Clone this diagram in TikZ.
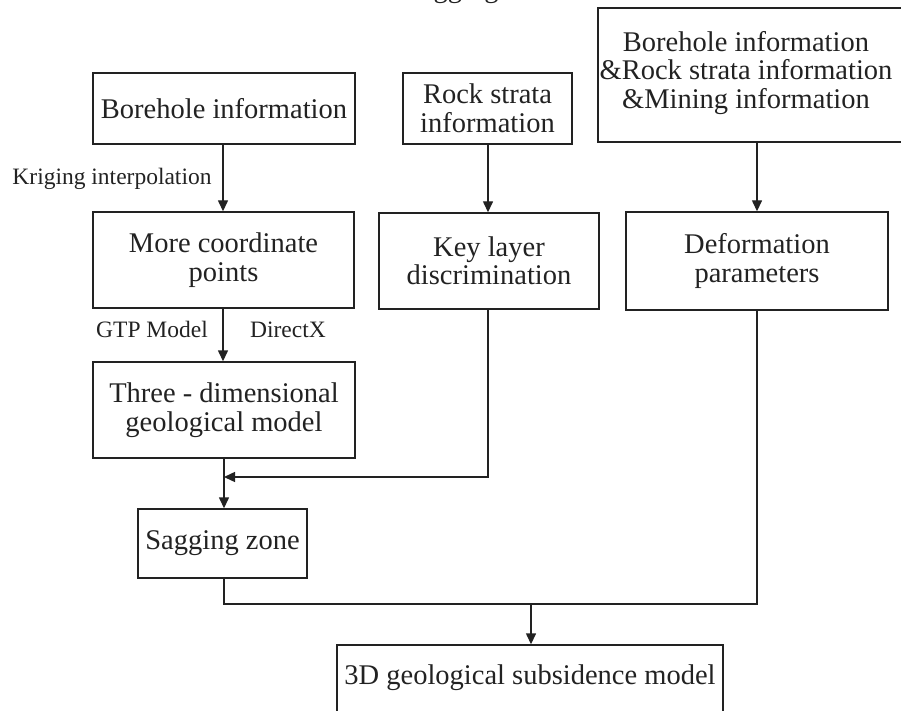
\documentclass[tikz,border=0pt]{standalone}
\usepackage{fontspec}
\setmainfont{Liberation Serif}
\usetikzlibrary{arrows.meta}
\definecolor{ink}{HTML}{222222}
\begin{document}
\begin{tikzpicture}[x=1pt,y=-1pt,
 box/.style={draw=ink, line width=1.4pt, rectangle, inner sep=0pt, align=center, font=\fontsize{28.5}{28.5}\selectfont, text=ink},
 btxt/.style={inner sep=0pt, align=center, font=\fontsize{28.5}{28.5}\selectfont, text=ink},
 lbl/.style={font=\fontsize{23.5}{25}\selectfont, text=ink, inner sep=0pt},
 conn/.style={draw=ink, line width=1.4pt},
 arr/.style={conn, -{Triangle[length=11pt,width=10pt]}}]
\useasboundingbox (0,0) rectangle (901,711);
\clip (0,0) rectangle (901,711);
% cut-off title
\node[btxt, anchor=base west] (title) at (405,-2.5) {Sagging};
% boxes
\node[box, minimum width=262, minimum height=71] (bh) at (224,108.5) {Borehole information};
\node[box, minimum width=169, minimum height=71] (rs) at (487.5,108.5) {Rock strata\\information};
\node[box, minimum width=318, minimum height=134] (big) at (757,75) {};
\node[btxt] (bigt) at (746,73) {Borehole information\\\&Rock strata information\\\&Mining information};
\node[box, minimum width=261, minimum height=96] (mc) at (223.5,260) {More coordinate\\points};
\node[box, minimum width=220, minimum height=96] (kl) at (489,261) {Key layer\\discrimination};
\node[box, minimum width=262, minimum height=98] (dp) at (757,261) {Deformation\\parameters};
\node[box, minimum width=262, minimum height=96] (td) at (224,410) {Three - dimensional\\geological model};
\node[box, minimum width=169, minimum height=69] (sz) at (222.5,543.5) {Sagging zone};
\node[box, minimum width=386, minimum height=86] (m3d) at (530,688) {};
\node[btxt] (m3dt) at (530,678) {3D geological subsidence model};
% labels
\node[lbl] (krig) at (112,179) {Kriging interpolation};
\node[lbl] (gtp) at (152,329) {GTP Model};
\node[lbl] (dx) at (288,330) {DirectX};
% connectors
\coordinate (j1) at (224,477);
\coordinate (j2a) at (224,604);
\coordinate (j2b) at (757,604);
\coordinate (j2) at (531,604);
\draw[arr] (bh.south -| 223,0) -- (mc.north -| 223,0);
\draw[arr] (mc.south -| 223,0) -- (td.north -| 223,0);
\draw[arr] (rs.south -| 488,0) -- (kl.north -| 488,0);
\draw[arr] (big.south) -- (dp.north);
\draw[arr] (kl.south -| 488,0) |- (j1);
\draw[arr] (td.south -| 224,0) -- (sz.north -| 224,0);
\draw[conn] (sz.south -| 224,0) -- (j2a) -- (j2b) -- (dp.south);
\draw[arr] (j2) -- (m3d.north -| j2);
\end{tikzpicture}
\end{document}
